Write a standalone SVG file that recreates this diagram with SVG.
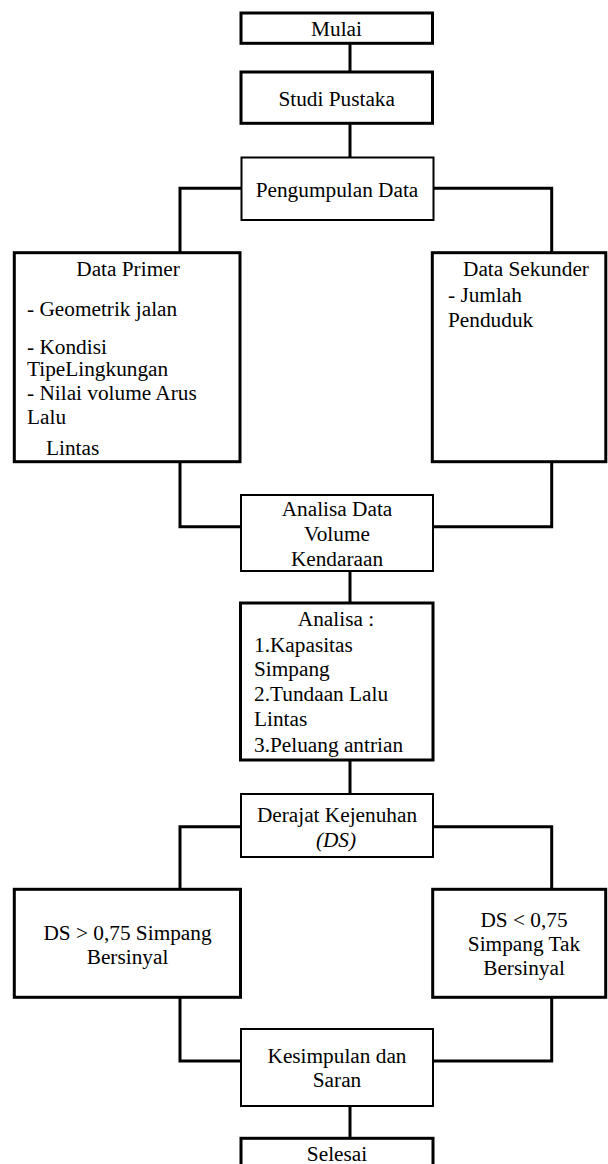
<svg xmlns="http://www.w3.org/2000/svg" width="608" height="1164" viewBox="0 0 608 1164">
<style>
.thick{fill:#fff;stroke:#000;stroke-width:3}
.thin{fill:#fff;stroke:#000;stroke-width:2}
.conn{fill:none;stroke:#000;stroke-width:3}
.c{text-anchor:middle}
</style>
<rect width="608" height="1164" fill="#fff"/>
<g id="connectors">
<path class="conn" d="M350 43V72"/>
<path class="conn" d="M350 123V157.5"/>
<path class="conn" d="M241.5 188.3H180V252.7"/>
<path class="conn" d="M433.5 188.3H551.7V252.7"/>
<path class="conn" d="M180 461.7V526.7H241"/>
<path class="conn" d="M551.7 461.7V526.7H433"/>
<path class="conn" d="M350 571V603"/>
<path class="conn" d="M350 760V794"/>
<path class="conn" d="M241 826.7H180V889.3"/>
<path class="conn" d="M433 826.7H551.7V889.3"/>
<path class="conn" d="M180 997.3V1061H241"/>
<path class="conn" d="M551.7 997.3V1061H433"/>
<path class="conn" d="M350 1106V1138.3"/>
</g>
<g font-family="'Liberation Serif', 'Times New Roman', serif" font-size="21.3" fill="#000">
<g id="mulai">
<rect class="thick" x="241" y="13" width="191.5" height="30.3"/>
<text class="c" x="336.5" y="36">Mulai</text>
</g>
<g id="studi-pustaka">
<rect class="thick" x="241" y="72" width="191.5" height="51.3"/>
<text class="c" x="336.7" y="106">Studi Pustaka</text>
</g>
<g id="pengumpulan-data">
<rect class="thin" x="241.5" y="157.5" width="192" height="62.5"/>
<text class="c" x="337" y="197">Pengumpulan Data</text>
</g>
<g id="data-primer">
<rect class="thick" x="14.3" y="252.7" width="225.7" height="209"/>
<text class="c" x="128" y="276">Data Primer</text>
<text x="27" y="316">- Geometrik jalan</text>
<text x="27" y="354">- Kondisi</text>
<text x="27" y="376">TipeLingkungan</text>
<text x="27" y="400">- Nilai volume Arus</text>
<text x="27" y="424">Lalu</text>
<text x="46" y="455">Lintas</text>
</g>
<g id="data-sekunder">
<rect class="thick" x="432.3" y="252.7" width="173.5" height="209"/>
<text x="463" y="276">Data Sekunder</text>
<text x="448" y="302">- Jumlah</text>
<text x="448" y="327">Penduduk</text>
</g>
<g id="analisa-data-volume">
<rect class="thin" x="241" y="495" width="192" height="76"/>
<text class="c" x="337" y="516">Analisa Data</text>
<text class="c" x="337" y="541">Volume</text>
<text class="c" x="337" y="566">Kendaraan</text>
</g>
<g id="analisa">
<rect class="thick" x="240.5" y="603" width="192.5" height="157"/>
<text class="c" x="336" y="626">Analisa :</text>
<text x="254" y="652">1.Kapasitas</text>
<text x="254" y="676">Simpang</text>
<text x="254" y="701">2.Tundaan Lalu</text>
<text x="254" y="726">Lintas</text>
<text x="254" y="752">3.Peluang antrian</text>
</g>
<g id="derajat-kejenuhan">
<rect class="thin" x="241" y="794" width="192" height="63"/>
<text class="c" x="337" y="822">Derajat Kejenuhan</text>
<text class="c" x="336" y="847" font-style="italic">(DS)</text>
</g>
<g id="ds-bersinyal">
<rect class="thick" x="14.3" y="889.3" width="226.2" height="108"/>
<text class="c" x="127.5" y="940">DS &gt; 0,75 Simpang</text>
<text class="c" x="127.5" y="964">Bersinyal</text>
</g>
<g id="ds-tak-bersinyal">
<rect class="thick" x="432.7" y="889.3" width="173" height="108"/>
<text class="c" x="524" y="927">DS &lt; 0,75</text>
<text class="c" x="524" y="951">Simpang Tak</text>
<text class="c" x="524" y="975">Bersinyal</text>
</g>
<g id="kesimpulan">
<rect class="thin" x="241" y="1029" width="192" height="77"/>
<text class="c" x="337" y="1063">Kesimpulan dan</text>
<text class="c" x="337" y="1087">Saran</text>
</g>
<g id="selesai">
<rect class="thick" x="241" y="1138.3" width="192" height="40"/>
<text class="c" x="337" y="1161">Selesai</text>
</g>
</g>
</svg>
